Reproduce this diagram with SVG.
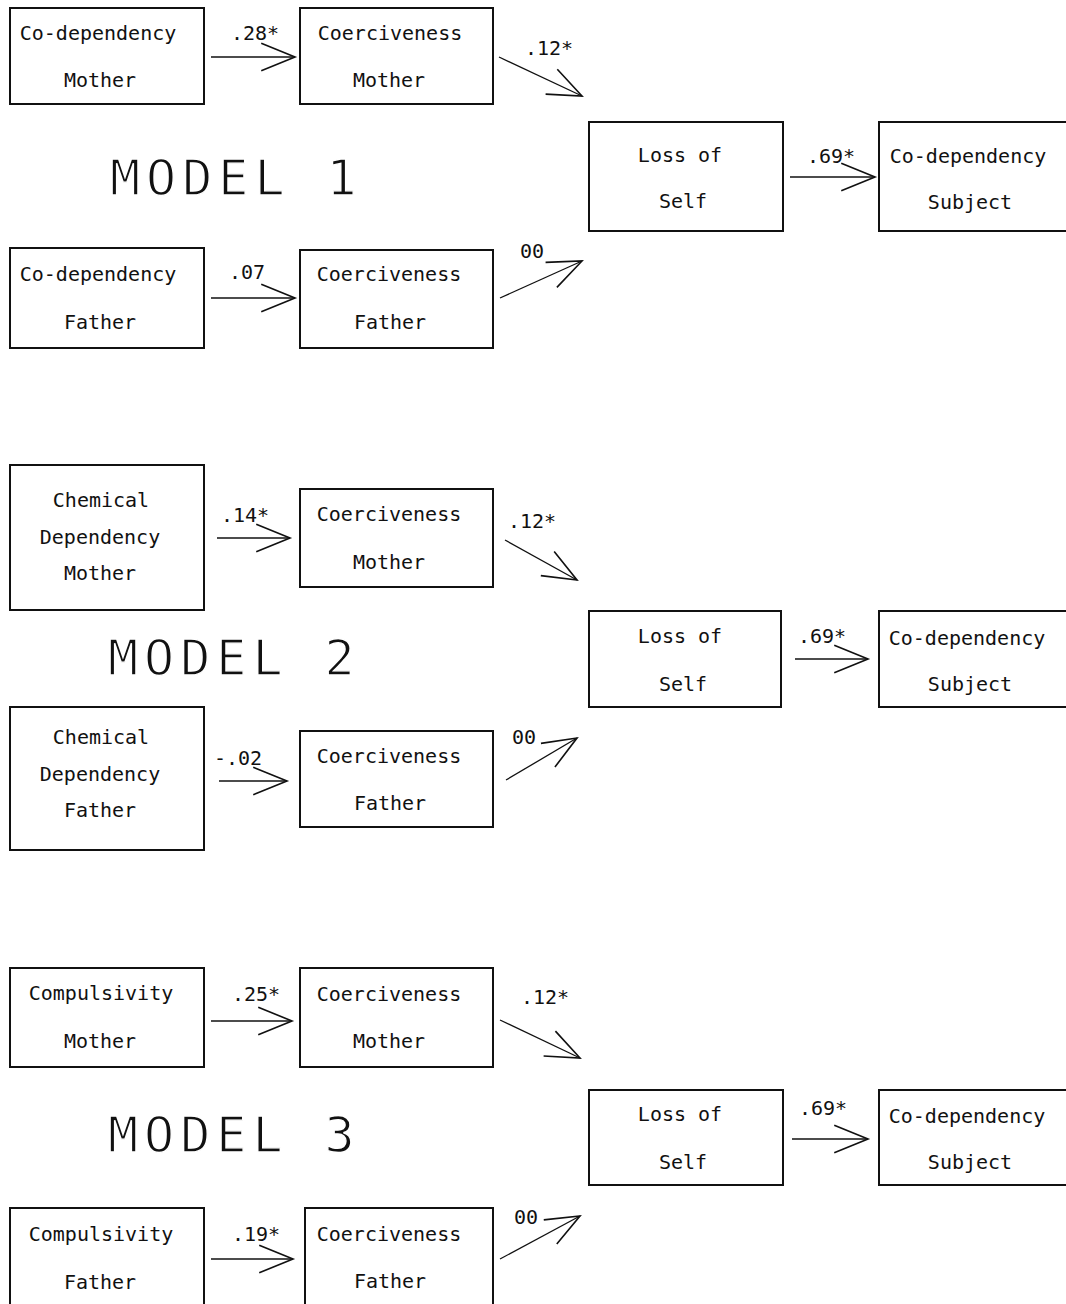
<svg xmlns="http://www.w3.org/2000/svg" width="1066" height="1304" viewBox="0 0 1066 1304">
<style>
.box{fill:none;stroke:#111;stroke-width:2}
.t{font-family:"DejaVu Sans Mono","Liberation Mono",monospace;font-size:20px;fill:#111;text-anchor:middle}
.lbl{font-family:"DejaVu Sans Mono","Liberation Mono",monospace;font-size:20px;fill:#111;text-anchor:middle}
.title{font-family:"DejaVu Sans Mono","Liberation Mono",monospace;font-size:50px;fill:#111;letter-spacing:6px;stroke:#fff;stroke-width:1.4}
.c{stroke:#111;stroke-width:1.3;fill:none;marker-end:url(#ah)}
</style>
<defs>
<marker id="ah" markerUnits="userSpaceOnUse" markerWidth="40" markerHeight="40" viewBox="-30 -15 32 30" refX="0" refY="0" orient="auto">
<path d="M-27,-11 L0,0 L-27,11" fill="none" stroke="#111" stroke-width="1.3"/>
</marker>
</defs>
<rect width="1066" height="1304" fill="#fff"/>

<text class="title" x="110" y="195">MODEL 1</text>
<text class="title" x="108" y="675">MODEL 2</text>
<text class="title" x="108" y="1152">MODEL 3</text>

<g id="connectors">
<line class="c" x1="211" y1="57" x2="295" y2="57"/>
<line class="c" x1="499" y1="57" x2="582" y2="96"/>
<line class="c" x1="790" y1="177" x2="875" y2="177"/>
<line class="c" x1="211" y1="298" x2="295" y2="298"/>
<line class="c" x1="500" y1="298" x2="582" y2="261"/>
<line class="c" x1="217" y1="538" x2="290" y2="538"/>
<line class="c" x1="505" y1="540" x2="577" y2="580"/>
<line class="c" x1="795" y1="659" x2="868" y2="659"/>
<line class="c" x1="219" y1="781" x2="287" y2="781"/>
<line class="c" x1="506" y1="780" x2="577" y2="738"/>
<line class="c" x1="211" y1="1021" x2="292" y2="1021"/>
<line class="c" x1="500" y1="1020" x2="580" y2="1058"/>
<line class="c" x1="792" y1="1139" x2="868" y2="1139"/>
<line class="c" x1="211" y1="1259" x2="293" y2="1259"/>
<line class="c" x1="500" y1="1259" x2="580" y2="1216"/>
<text class="lbl" x="255" y="40">.28*</text>
<text class="lbl" x="549" y="55">.12*</text>
<text class="lbl" x="831" y="163">.69*</text>
<text class="lbl" x="247" y="279">.07</text>
<text class="lbl" x="532" y="258">00</text>
<text class="lbl" x="245" y="522">.14*</text>
<text class="lbl" x="532" y="528">.12*</text>
<text class="lbl" x="822" y="643">.69*</text>
<text class="lbl" x="238" y="765">-.02</text>
<text class="lbl" x="524" y="744">00</text>
<text class="lbl" x="256" y="1001">.25*</text>
<text class="lbl" x="545" y="1004">.12*</text>
<text class="lbl" x="823" y="1115">.69*</text>
<text class="lbl" x="256" y="1241">.19*</text>
<text class="lbl" x="526" y="1224">00</text>
</g>

<g id="m1-codep-mother"><rect class="box" x="10" y="8" width="194" height="96"/><text class="t" x="98" y="40">Co-dependency</text><text class="t" x="100" y="87">Mother</text></g>
<g id="m1-coerc-mother"><rect class="box" x="300" y="8" width="193" height="96"/><text class="t" x="390" y="40">Coerciveness</text><text class="t" x="389" y="87">Mother</text></g>
<g id="m1-loss"><rect class="box" x="589" y="122" width="194" height="109"/><text class="t" x="680" y="162">Loss of</text><text class="t" x="683" y="208">Self</text></g>
<g id="m1-subject"><rect class="box" x="879" y="122" width="200" height="109"/><text class="t" x="968" y="163">Co-dependency</text><text class="t" x="970" y="209">Subject</text></g>
<g id="m1-codep-father"><rect class="box" x="10" y="248" width="194" height="100"/><text class="t" x="98" y="281">Co-dependency</text><text class="t" x="100" y="329">Father</text></g>
<g id="m1-coerc-father"><rect class="box" x="300" y="250" width="193" height="98"/><text class="t" x="389" y="281">Coerciveness</text><text class="t" x="390" y="329">Father</text></g>

<g id="m2-chem-mother"><rect class="box" x="10" y="465" width="194" height="145"/><text class="t" x="101" y="507">Chemical</text><text class="t" x="100" y="544">Dependency</text><text class="t" x="100" y="580">Mother</text></g>
<g id="m2-coerc-mother"><rect class="box" x="300" y="489" width="193" height="98"/><text class="t" x="389" y="521">Coerciveness</text><text class="t" x="389" y="569">Mother</text></g>
<g id="m2-loss"><rect class="box" x="589" y="611" width="192" height="96"/><text class="t" x="680" y="643">Loss of</text><text class="t" x="683" y="691">Self</text></g>
<g id="m2-subject"><rect class="box" x="879" y="611" width="200" height="96"/><text class="t" x="967" y="645">Co-dependency</text><text class="t" x="970" y="691">Subject</text></g>
<g id="m2-chem-father"><rect class="box" x="10" y="707" width="194" height="143"/><text class="t" x="101" y="744">Chemical</text><text class="t" x="100" y="781">Dependency</text><text class="t" x="100" y="817">Father</text></g>
<g id="m2-coerc-father"><rect class="box" x="300" y="731" width="193" height="96"/><text class="t" x="389" y="763">Coerciveness</text><text class="t" x="390" y="810">Father</text></g>

<g id="m3-comp-mother"><rect class="box" x="10" y="968" width="194" height="99"/><text class="t" x="101" y="1000">Compulsivity</text><text class="t" x="100" y="1048">Mother</text></g>
<g id="m3-coerc-mother"><rect class="box" x="300" y="968" width="193" height="99"/><text class="t" x="389" y="1001">Coerciveness</text><text class="t" x="389" y="1048">Mother</text></g>
<g id="m3-loss"><rect class="box" x="589" y="1090" width="194" height="95"/><text class="t" x="680" y="1121">Loss of</text><text class="t" x="683" y="1169">Self</text></g>
<g id="m3-subject"><rect class="box" x="879" y="1090" width="200" height="95"/><text class="t" x="967" y="1123">Co-dependency</text><text class="t" x="970" y="1169">Subject</text></g>
<g id="m3-comp-father"><rect class="box" x="10" y="1208" width="194" height="110"/><text class="t" x="101" y="1241">Compulsivity</text><text class="t" x="100" y="1289">Father</text></g>
<g id="m3-coerc-father"><rect class="box" x="305" y="1208" width="188" height="110"/><text class="t" x="389" y="1241">Coerciveness</text><text class="t" x="390" y="1288">Father</text></g>
</svg>
